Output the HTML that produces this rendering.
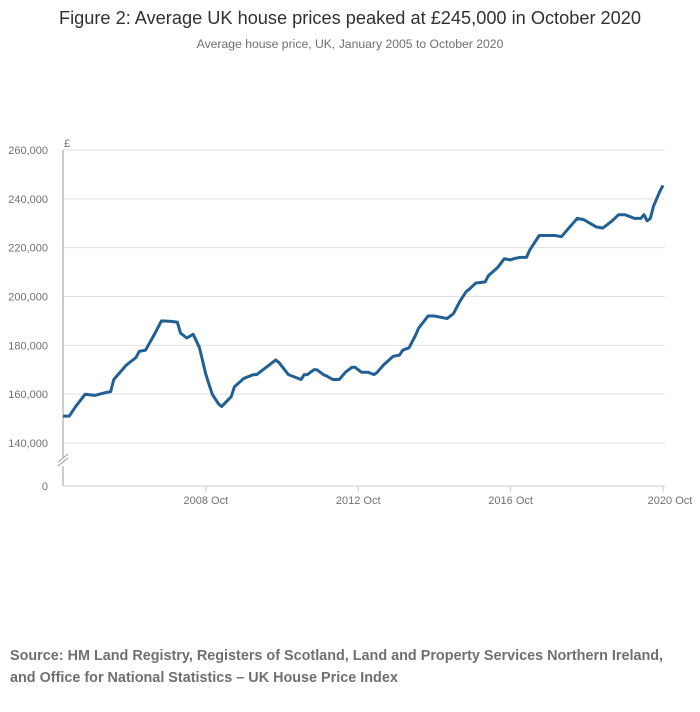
<!DOCTYPE html>
<html><head><meta charset="utf-8"><style>
body{margin:0;background:#fff;width:700px;height:707px;overflow:hidden;font-family:"Liberation Sans",sans-serif}
</style></head><body>
<svg width="700" height="707" font-family="Liberation Sans, sans-serif">
<text x="350" y="24" text-anchor="middle" font-size="18.2" fill="#323132">Figure 2: Average UK house prices peaked at £245,000 in October 2020</text>
<text x="350" y="48" text-anchor="middle" font-size="12.2" fill="#707071">Average house price, UK, January 2005 to October 2020</text>
<g id="grid"></g><g id="yaxis"></g><g id="xaxis"></g>
<line x1="63" y1="150" x2="63" y2="486" stroke="#999" stroke-width="1"/>
<line x1="63" y1="486" x2="665" y2="486" stroke="#ccc" stroke-width="1"/>
<g>
<rect x="56" y="457" width="14" height="9" fill="#fff"/>
<line x1="58" y1="466" x2="68" y2="458" stroke="#999"/>
<line x1="58" y1="462" x2="68" y2="454" stroke="#999"/>
</g>
<text x="64" y="147" font-size="11" fill="#707071">£</text>
<text x="48" y="490" text-anchor="end" font-size="11" fill="#707071">0</text>
<path id="line" fill="none" stroke="#206095" stroke-width="3" stroke-linejoin="round"/>
<text x="10" y="660" font-size="14.4" font-weight="bold" fill="#707071">Source: HM Land Registry, Registers of Scotland, Land and Property Services Northern Ireland,</text>
<text x="10" y="682" font-size="14.4" font-weight="bold" fill="#707071">and Office for National Statistics – UK House Price Index</text>
</svg>
<script>
const months=[0,2,4,7,10,13,15,16,20,23,24,26,29,31,34,36,37,39,41,43,45,47,49,50,53,54,57,60,61,64,67,68,71,75,76,77,79,80,82,83,85,87,89,91,92,94,96,98,99,101,104,106,107,109,111,112,115,117,119,121,123,125,127,128,130,133,134,137,139,141,142,144,146,147,150,152,155,157,160,162,164,168,170,171,173,175,177,180,182,183,184,185,186,188,189];
const prices=[151,151,155,160,159.5,160.5,161,166,172,175,177.5,178,185,190,189.8,189.5,185,183,184.5,179,168,160,156,155,159,163,166.5,168,168,171,174,173,168,166,168,168,170,170,168,167.5,166,166,169,171,171,169,169,168,169,172,175.5,176,178,179,184,187,192,192,191.5,191,193,198,202,203,205.5,206,208.5,212,215.5,215,215.5,216,216,219,225,225,225,224.5,229,232,231.5,228.5,228,229,231,233.5,233.5,232,232,233.5,231,232,237,243,245.5];
const yTicks=[140000,160000,180000,200000,220000,240000,260000];
const xTickMonths=[45,93,141,189];
const xTickLabels=["2008 Oct","2012 Oct","2016 Oct","2020 Oct"];
const X=m=>63+m*600/189;
const Y=v=>443-(v-140000)*293/120000;
const ns="http://www.w3.org/2000/svg";
const mk=(p,t,a)=>{const e=document.createElementNS(ns,t);for(const k in a)e.setAttribute(k,a[k]);document.getElementById(p).appendChild(e);return e;};
yTicks.forEach(v=>{
 const l=mk("grid","line",{x1:63,x2:665,y1:Y(v),y2:Y(v),stroke:"#e0e0e0"});
 
 
 const t=mk("yaxis","text",{x:48,y:Y(v)+4,"text-anchor":"end","font-size":11,fill:"#707071"});
 t.textContent=v.toLocaleString("en-GB");
 
 
});
xTickMonths.forEach((m,i)=>{
 const l=mk("xaxis","line",{x1:X(m),x2:X(m),y1:486,y2:492,stroke:"#ccc"});
 
 
 const t=mk("xaxis","text",{x:X(m)+(i==3?7:0),y:504,"text-anchor":"middle","font-size":11,fill:"#707071"});
 t.textContent=xTickLabels[i];
 
 
});
document.getElementById("line").setAttribute("d",months.map((m,i)=>(i?"L":"M")+X(m).toFixed(1)+","+Y(prices[i]*1000).toFixed(1)).join(""));
</script>
</body></html>
